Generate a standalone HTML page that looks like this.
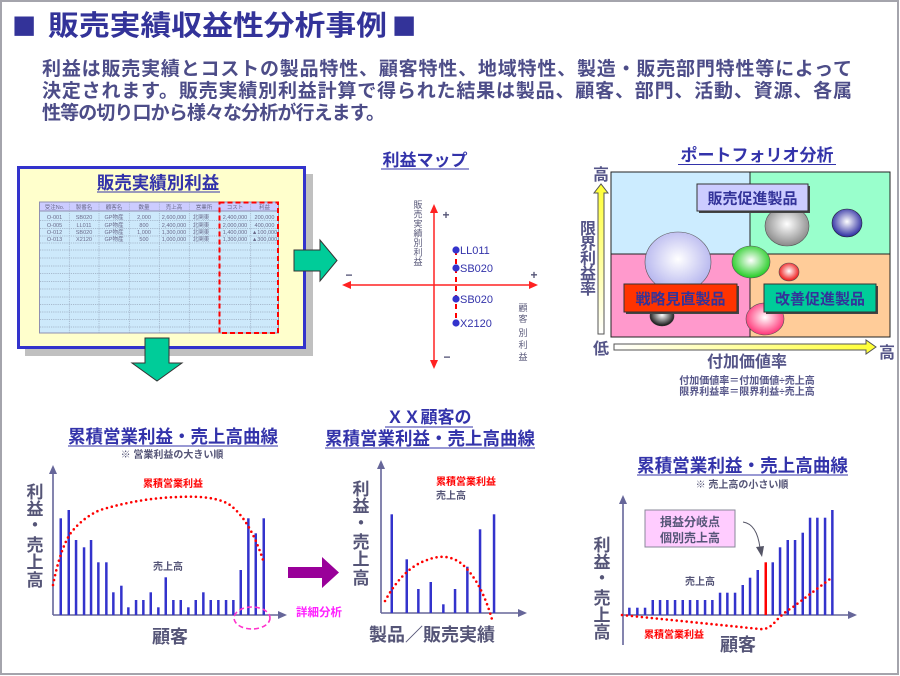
<!DOCTYPE html>
<html><head><meta charset="utf-8">
<style>
html,body{margin:0;padding:0;background:#fff;}
svg{display:block;}
text{font-family:"Liberation Sans","Noto Sans CJK JP",sans-serif;}
.b{font-weight:bold;}
.ttl{fill:#3333aa;font-weight:bold;}
.lab{fill:#555577;font-weight:bold;}
.tbl{font-size:5.5px;fill:#6a6a8a;}
.ser{font-family:"Liberation Serif","Noto Serif CJK SC",serif;}
</style></head>
<body>
<svg width="900" height="676" viewBox="0 0 900 676" xmlns="http://www.w3.org/2000/svg">
<defs>
  <radialGradient id="gGrey" cx="50%" cy="45%" r="55%"><stop offset="0" stop-color="#ffffff"/><stop offset="1" stop-color="#8a8a8a"/></radialGradient>
  <radialGradient id="gBlue" cx="50%" cy="45%" r="55%"><stop offset="0" stop-color="#ffffff"/><stop offset="1" stop-color="#2a2aa0"/></radialGradient>
  <radialGradient id="gLav" cx="50%" cy="45%" r="55%"><stop offset="0" stop-color="#ffffff"/><stop offset="1" stop-color="#b4b4ee"/></radialGradient>
  <radialGradient id="gGreen" cx="50%" cy="45%" r="55%"><stop offset="0" stop-color="#ffffff"/><stop offset="1" stop-color="#22cc22"/></radialGradient>
  <radialGradient id="gRed" cx="50%" cy="45%" r="55%"><stop offset="0" stop-color="#ffffff"/><stop offset="1" stop-color="#ee1111"/></radialGradient>
  <radialGradient id="gBlack" cx="50%" cy="45%" r="55%"><stop offset="0" stop-color="#ffffff"/><stop offset="1" stop-color="#111111"/></radialGradient>
  <radialGradient id="gPink" cx="50%" cy="45%" r="55%"><stop offset="0" stop-color="#ffffff"/><stop offset="1" stop-color="#ff3377"/></radialGradient>
  <linearGradient id="yV" x1="0" y1="1" x2="0" y2="0"><stop offset="0" stop-color="#ffffff"/><stop offset="1" stop-color="#ffff33"/></linearGradient>
  <linearGradient id="yH" x1="0" y1="0" x2="1" y2="0"><stop offset="0" stop-color="#ffffff"/><stop offset="1" stop-color="#ffff33"/></linearGradient>
</defs>

<!-- page border -->
<rect x="1" y="1" width="897" height="673" fill="#ffffff" stroke="#a4a4ac" stroke-width="2"/>

<!-- Title -->
<text x="12" y="38" font-size="40" fill="#333399">■</text>
<text x="48" y="35" font-size="28" fill="#333399" class="b" textLength="339" lengthAdjust="spacingAndGlyphs">販売実績収益性分析事例</text>
<text x="392" y="38" font-size="40" fill="#333399">■</text>

<!-- Paragraph -->
<g font-size="19" fill="#4d4d88" class="b">
<text x="42" y="75" textLength="810" lengthAdjust="spacing">利益は販売実績とコストの製品特性、顧客特性、地域特性、製造・販売部門特性等によって</text>
<text x="42" y="97" textLength="810" lengthAdjust="spacing">決定されます。販売実績別利益計算で得られた結果は製品、顧客、部門、活動、資源、各属</text>
<text x="42" y="119" textLength="343" lengthAdjust="spacing">性等の切り口から様々な分析が行えます。</text>
</g>

<!-- ============ Spreadsheet box ============ -->
<rect x="25" y="174" width="288" height="182" fill="#c0c0c0"/>
<rect x="18.5" y="167.5" width="286" height="180" fill="#ffffcc" stroke="#3333cc" stroke-width="3"/>
<text x="158" y="189" font-size="17.5" text-anchor="middle" class="ttl">販売実績別利益</text>
<line x1="97" y1="192" x2="220" y2="192" stroke="#3333aa" stroke-width="1"/>

<!-- table -->
<rect x="39.5" y="202" width="239" height="131" fill="#cde9fb" stroke="#9090b0" stroke-width="1"/>
<rect x="39.5" y="202" width="239" height="9" fill="#ccccff" stroke="#9090b0" stroke-width="1"/>
<g stroke="#9aaac0" stroke-width="0.7" stroke-dasharray="1.2 1">
  <line x1="69.3" y1="202" x2="69.3" y2="333"/>
  <line x1="99" y1="202" x2="99" y2="333"/>
  <line x1="129.3" y1="202" x2="129.3" y2="333"/>
  <line x1="159.3" y1="202" x2="159.3" y2="333"/>
  <line x1="189.3" y1="202" x2="189.3" y2="333"/>
  <line x1="219.3" y1="202" x2="219.3" y2="333"/>
  <line x1="250.7" y1="202" x2="250.7" y2="333"/>
  <line x1="40" y1="220.5" x2="278" y2="220.5"/>
  <line x1="40" y1="228.5" x2="278" y2="228.5"/>
  <line x1="40" y1="236" x2="278" y2="236"/>
  <line x1="40" y1="243" x2="278" y2="243"/>
  <line x1="40" y1="250" x2="278" y2="250"/>
  <line x1="40" y1="258" x2="278" y2="258"/>
  <line x1="40" y1="266" x2="278" y2="266"/>
  <line x1="40" y1="273.5" x2="278" y2="273.5"/>
  <line x1="40" y1="281.5" x2="278" y2="281.5"/>
  <line x1="40" y1="289" x2="278" y2="289"/>
  <line x1="40" y1="297" x2="278" y2="297"/>
  <line x1="40" y1="304.5" x2="278" y2="304.5"/>
  <line x1="40" y1="312" x2="278" y2="312"/>
  <line x1="40" y1="319.5" x2="278" y2="319.5"/>
  <line x1="40" y1="327" x2="278" y2="327"/>
</g>
<g class="tbl" text-anchor="middle">
  <text x="54.5" y="208.8">受注No.</text>
  <text x="84" y="208.8">製番名</text>
  <text x="114" y="208.8">顧客名</text>
  <text x="144" y="208.8">数量</text>
  <text x="174" y="208.8">売上高</text>
  <text x="204" y="208.8">営業所</text>
  <text x="235" y="208.8">コスト</text>
  <text x="264.5" y="208.8">利益</text>

  <text x="54.5" y="219">O-001</text><text x="84" y="219">SB020</text><text x="114" y="219">GP物産</text><text x="144" y="219">2,000</text><text x="174" y="219">2,600,000</text><text x="201" y="219">北関東</text><text x="235" y="219">2,400,000</text><text x="264.5" y="219">200,000</text>
  <text x="54.5" y="227">O-005</text><text x="84" y="227">LL011</text><text x="114" y="227">GP物産</text><text x="144" y="227">800</text><text x="174" y="227">2,400,000</text><text x="201" y="227">北関東</text><text x="235" y="227">2,000,000</text><text x="264.5" y="227">400,000</text>
  <text x="54.5" y="234">O-012</text><text x="84" y="234">SB020</text><text x="114" y="234">GP物産</text><text x="144" y="234">1,000</text><text x="174" y="234">1,300,000</text><text x="201" y="234">北関東</text><text x="235" y="234">1,400,000</text><text x="264.5" y="234">▲100,000</text>
  <text x="54.5" y="241">O-013</text><text x="84" y="241">X2120</text><text x="114" y="241">GP物産</text><text x="144" y="241">500</text><text x="174" y="241">1,000,000</text><text x="201" y="241">北関東</text><text x="235" y="241">1,300,000</text><text x="264.5" y="241">▲300,000</text>
</g>
<rect x="219.5" y="202.5" width="58.5" height="130.5" fill="none" stroke="#ff0000" stroke-width="2" stroke-dasharray="5 3"/>

<!-- green right arrow -->
<path d="M294,250 L320,250 L320,240 L337,260.5 L320,281 L320,271 L294,271 Z" fill="#00cc99" stroke="#333333" stroke-width="1"/>
<!-- green down arrow -->
<path d="M145,338 L169,338 L169,363 L182,363 L157,381 L132,363 L145,363 Z" fill="#00cc99" stroke="#333333" stroke-width="1"/>

<!-- ============ Profit map ============ -->
<text x="425" y="166" font-size="17" text-anchor="middle" class="ttl">利益マップ</text>
<line x1="381" y1="169" x2="469" y2="169" stroke="#3333aa" stroke-width="1"/>

<g stroke="#ff2222" stroke-width="1.5">
  <line x1="434" y1="210" x2="434" y2="363"/>
  <line x1="348" y1="285" x2="532" y2="285"/>
</g>
<g fill="#ff2222">
  <path d="M434,204 L430,213 L438,213 Z"/>
  <path d="M434,369 L430,360 L438,360 Z"/>
  <path d="M342,285 L351,281 L351,289 Z"/>
  <path d="M538,285 L529,281 L529,289 Z"/>
</g>
<g fill="#555577" font-size="12" class="b" text-anchor="middle">
  <text x="446" y="219">+</text>
  <text x="447" y="361">−</text>
  <text x="349" y="279">−</text>
  <text x="534" y="279">+</text>
</g>
<g fill="#5a5a7a" font-size="9" text-anchor="middle">
  <text x="418" y="208">販</text><text x="418" y="217.5">売</text><text x="418" y="227">実</text><text x="418" y="236.5">績</text><text x="418" y="246">別</text><text x="418" y="255.5">利</text><text x="418" y="265">益</text>
  <text x="523" y="311">顧</text><text x="523" y="322">客</text><text x="523" y="336">別</text><text x="523" y="348">利</text><text x="523" y="360">益</text>
</g>
<line x1="456" y1="250" x2="456" y2="323" stroke="#ff0000" stroke-width="2" stroke-dasharray="5 4"/>
<g fill="#3333cc">
  <circle cx="456" cy="250" r="3.6"/>
  <circle cx="456" cy="268" r="3.6"/>
  <circle cx="456" cy="299" r="3.6"/>
  <circle cx="456" cy="323" r="3.6"/>
</g>
<g fill="#3333aa" font-size="11" class="ser">
  <text x="460" y="254">LL011</text>
  <text x="460" y="272">SB020</text>
  <text x="460" y="303">SB020</text>
  <text x="460" y="327">X2120</text>
</g>

<!-- ============ Portfolio ============ -->
<text x="757" y="161" font-size="17" text-anchor="middle" class="ttl">ポートフォリオ分析</text>
<line x1="678" y1="164.5" x2="836" y2="164.5" stroke="#3333aa" stroke-width="1"/>

<rect x="611" y="172" width="139" height="82" fill="#ccecff"/>
<rect x="750" y="172" width="140" height="82" fill="#99ffcc"/>
<rect x="611" y="254" width="139" height="83" fill="#ff99cc"/>
<rect x="750" y="254" width="140" height="83" fill="#ffcc99"/>
<g stroke="#222" stroke-width="1" fill="none">
  <rect x="611" y="172" width="279" height="165"/>
  <line x1="750" y1="172" x2="750" y2="337"/>
  <line x1="611" y1="254" x2="890" y2="254"/>
</g>

<!-- bubbles -->
<ellipse cx="787" cy="226" rx="22" ry="20" fill="url(#gGrey)" stroke="#555" stroke-width="0.6"/>
<ellipse cx="847" cy="223" rx="15" ry="14" fill="url(#gBlue)" stroke="#223" stroke-width="0.6"/>
<ellipse cx="678" cy="262" rx="33" ry="30" fill="url(#gLav)" stroke="#555" stroke-width="0.6"/>
<ellipse cx="751" cy="262" rx="19" ry="16" fill="url(#gGreen)" stroke="#555" stroke-width="0.6"/>
<ellipse cx="789" cy="272" rx="10" ry="9" fill="url(#gRed)" stroke="#555" stroke-width="0.6"/>
<ellipse cx="662" cy="316" rx="12" ry="10" fill="url(#gBlack)" stroke="#333" stroke-width="0.6"/>
<ellipse cx="765" cy="319" rx="19" ry="16" fill="url(#gPink)" stroke="#555" stroke-width="0.6"/>

<!-- label boxes -->
<rect x="699" y="186" width="111" height="27" fill="#444"/>
<rect x="697" y="184" width="111" height="27" fill="#ccccff" stroke="#333" stroke-width="1"/>
<text x="752.5" y="203.5" font-size="15" text-anchor="middle" fill="#333399" class="b">販売促進製品</text>

<rect x="626" y="286" width="113" height="28" fill="#444"/>
<rect x="624" y="284" width="113" height="28" fill="#ff3300" stroke="#333" stroke-width="1"/>
<text x="680.5" y="304" font-size="15" text-anchor="middle" fill="#333399" class="b">戦略見直製品</text>

<rect x="766" y="286" width="112" height="28" fill="#444"/>
<rect x="764" y="284" width="112" height="28" fill="#00cc99" stroke="#333" stroke-width="1"/>
<text x="820" y="304" font-size="15" text-anchor="middle" fill="#333399" class="b">改善促進製品</text>

<!-- portfolio axes -->
<path d="M598,334 L598,193 L594,193 L601,184 L608,193 L604,193 L604,334 Z" fill="url(#yV)" stroke="#555" stroke-width="1"/>
<path d="M614,344 L866,344 L866,340 L876,347 L866,354 L866,350 L614,350 Z" fill="url(#yH)" stroke="#555" stroke-width="1"/>
<g fill="#555588" class="b" font-size="16" text-anchor="middle">
  <text x="601" y="180">高</text>
  <text x="601" y="354">低</text>
  <text x="887" y="358">高</text>
  <text x="588" y="234">限</text><text x="588" y="249">界</text><text x="588" y="264">利</text><text x="588" y="279">益</text><text x="588" y="294">率</text>
  <text x="747" y="367">付加価値率</text>
</g>
<g fill="#555588" class="b" font-size="10" text-anchor="middle">
  <text x="747" y="384">付加価値率＝付加価値÷売上高</text>
  <text x="747" y="395">限界利益率＝限界利益÷売上高</text>
</g>

<!-- ============ Bottom-left chart ============ -->
<text x="68" y="443" font-size="18" class="ttl" textLength="210" lengthAdjust="spacingAndGlyphs">累積営業利益・売上高曲線</text>
<line x1="68" y1="446" x2="278" y2="446" stroke="#3333aa" stroke-width="1"/>
<text x="172" y="458" font-size="10" text-anchor="middle" class="lab">※ 営業利益の大きい順</text>

<g stroke="#666699" stroke-width="1.6">
  <line x1="53" y1="472" x2="53" y2="615"/>
  <line x1="53" y1="615" x2="280" y2="615"/>
</g>
<g fill="#666699">
  <path d="M53,465 L49,474 L57,474 Z"/>
  <path d="M287,615 L278,611 L278,619 Z"/>
</g>
<g fill="#3333cc">
  <rect x="59.5" y="518.3" width="2.5" height="96.7"/>
  <rect x="67.5" y="510" width="2.5" height="105"/>
  <rect x="74.8" y="540" width="2.5" height="75"/>
  <rect x="82.8" y="547.3" width="2.5" height="67.7"/>
  <rect x="89.8" y="540" width="2.5" height="75"/>
  <rect x="97.1" y="562.3" width="2.5" height="52.7"/>
  <rect x="105.1" y="562.3" width="2.5" height="52.7"/>
  <rect x="112.1" y="592.3" width="2.5" height="22.7"/>
  <rect x="120.1" y="585.7" width="2.5" height="29.3"/>
  <rect x="127.1" y="607.3" width="2.5" height="7.7"/>
  <rect x="134.8" y="600" width="2.5" height="15"/>
  <rect x="142.1" y="600" width="2.5" height="15"/>
  <rect x="149.5" y="592.3" width="2.5" height="22.7"/>
  <rect x="157.1" y="607.3" width="2.5" height="7.7"/>
  <rect x="164.5" y="577.3" width="2.5" height="37.7"/>
  <rect x="172.1" y="600" width="2.5" height="15"/>
  <rect x="179.5" y="600" width="2.5" height="15"/>
  <rect x="187.1" y="607.3" width="2.5" height="7.7"/>
  <rect x="194.5" y="600" width="2.5" height="15"/>
  <rect x="202.1" y="592.3" width="2.5" height="22.7"/>
  <rect x="209.5" y="600" width="2.5" height="15"/>
  <rect x="217.1" y="600" width="2.5" height="15"/>
  <rect x="224.8" y="600" width="2.5" height="15"/>
  <rect x="232.1" y="600" width="2.5" height="15"/>
  <rect x="239.5" y="570" width="2.5" height="45"/>
  <rect x="247.1" y="518.3" width="2.5" height="96.7"/>
  <rect x="254.5" y="533.3" width="2.5" height="81.7"/>
  <rect x="262.5" y="518.3" width="2.5" height="96.7"/>
</g>
<path d="M53,585 Q60,550 70,534 Q82,518 100,510 Q140,498 178,497 Q215,495 230,505 Q250,520 263,560" fill="none" stroke="#ff0000" stroke-width="2.6" stroke-dasharray="0 5" stroke-linecap="round"/>
<text x="173" y="487" font-size="10" text-anchor="middle" fill="#ff0000" class="b">累積営業利益</text>
<text x="168" y="570" font-size="10" text-anchor="middle" class="lab">売上高</text>
<ellipse cx="252" cy="618" rx="18" ry="11" fill="none" stroke="#ff33cc" stroke-width="1.6" stroke-dasharray="5 3"/>
<g font-size="17" class="lab" text-anchor="middle">
  <text x="35" y="498">利</text><text x="35" y="515">益</text><text x="35" y="531">・</text><text x="35" y="551">売</text><text x="35" y="568">上</text><text x="35" y="586">高</text>
</g>
<text x="170" y="643" font-size="18" text-anchor="middle" class="lab">顧客</text>

<!-- purple arrow + 詳細分析 -->
<path d="M288,567 L322,567 L322,557 L339,572.5 L322,588 L322,578 L288,578 Z" fill="#990099"/>
<text x="319" y="616" font-size="11.5" text-anchor="middle" fill="#ff22ff" class="b">詳細分析</text>

<!-- ============ Middle chart ============ -->
<text x="429" y="423" font-size="17" text-anchor="middle" class="ttl">ＸＸ顧客の</text>
<line x1="385" y1="427" x2="473" y2="427" stroke="#3333aa" stroke-width="1"/>
<text x="325" y="445" font-size="18" class="ttl" textLength="210" lengthAdjust="spacingAndGlyphs">累積営業利益・売上高曲線</text>
<line x1="325" y1="448" x2="535" y2="448" stroke="#3333aa" stroke-width="1"/>

<g stroke="#666699" stroke-width="1.6">
  <line x1="381" y1="467" x2="381" y2="613"/>
  <line x1="381" y1="613" x2="520" y2="613"/>
</g>
<g fill="#666699">
  <path d="M381,460 L377,469 L385,469 Z"/>
  <path d="M527,613 L518,609 L518,617 Z"/>
</g>
<g fill="#3333cc">
  <rect x="390.5" y="514.3" width="2.5" height="98.7"/>
  <rect x="405.5" y="559.3" width="2.5" height="53.7"/>
  <rect x="417.1" y="589" width="2.5" height="24"/>
  <rect x="429.5" y="582" width="2.5" height="31"/>
  <rect x="442.1" y="604.3" width="2.5" height="8.7"/>
  <rect x="453.8" y="589" width="2.5" height="24"/>
  <rect x="466.1" y="566.7" width="2.5" height="46.3"/>
  <rect x="478.8" y="529.3" width="2.5" height="83.7"/>
  <rect x="492.8" y="514.3" width="2.5" height="98.7"/>
</g>
<path d="M385,601 Q403,568 427,560 Q447,552 462,564 Q482,582 493,623" fill="none" stroke="#ff0000" stroke-width="2.6" stroke-dasharray="0 5" stroke-linecap="round"/>
<text x="466" y="485" font-size="10" text-anchor="middle" fill="#ff0000" class="b">累積営業利益</text>
<text x="451" y="499" font-size="10" text-anchor="middle" class="lab">売上高</text>
<g font-size="17" class="lab" text-anchor="middle">
  <text x="361" y="495">利</text><text x="361" y="512">益</text><text x="361" y="529">・</text><text x="361" y="548">売</text><text x="361" y="565">上</text><text x="361" y="584">高</text>
</g>
<text x="432" y="641" font-size="18" text-anchor="middle" class="lab">製品／販売実績</text>

<!-- ============ Right chart ============ -->
<text x="637" y="472" font-size="18" class="ttl" textLength="211" lengthAdjust="spacingAndGlyphs">累積営業利益・売上高曲線</text>
<line x1="637" y1="475" x2="848" y2="475" stroke="#3333aa" stroke-width="1"/>
<text x="742" y="488" font-size="10" text-anchor="middle" class="lab">※ 売上高の小さい順</text>

<g stroke="#666699" stroke-width="1.6">
  <line x1="623" y1="502" x2="623" y2="645"/>
  <line x1="623" y1="615" x2="850" y2="615"/>
</g>
<g fill="#666699">
  <path d="M623,495 L619,504 L627,504 Z"/>
  <path d="M857,615 L848,611 L848,619 Z"/>
</g>
<g fill="#3333cc">
  <rect x="628.1" y="607.7" width="2.5" height="7.3"/>
  <rect x="636.1" y="607.7" width="2.5" height="7.3"/>
  <rect x="643.8" y="607.7" width="2.5" height="7.3"/>
  <rect x="651.5" y="600" width="2.5" height="15"/>
  <rect x="658.8" y="600" width="2.5" height="15"/>
  <rect x="666.1" y="600" width="2.5" height="15"/>
  <rect x="673.8" y="600" width="2.5" height="15"/>
  <rect x="681.5" y="600" width="2.5" height="15"/>
  <rect x="688.8" y="600" width="2.5" height="15"/>
  <rect x="696.1" y="600" width="2.5" height="15"/>
  <rect x="703.8" y="600" width="2.5" height="15"/>
  <rect x="711.1" y="600" width="2.5" height="15"/>
  <rect x="718.8" y="592.7" width="2.5" height="22.3"/>
  <rect x="726.1" y="592.7" width="2.5" height="22.3"/>
  <rect x="733.8" y="592.7" width="2.5" height="22.3"/>
  <rect x="741.5" y="585" width="2.5" height="30"/>
  <rect x="748.8" y="577.7" width="2.5" height="37.3"/>
  <rect x="756.5" y="570" width="2.5" height="45"/>
  <rect x="771.5" y="562.3" width="2.5" height="52.7"/>
  <rect x="778.8" y="547.3" width="2.5" height="67.7"/>
  <rect x="786.5" y="540" width="2.5" height="75"/>
  <rect x="793.8" y="540" width="2.5" height="75"/>
  <rect x="801.5" y="532.7" width="2.5" height="82.3"/>
  <rect x="808.8" y="517.7" width="2.5" height="97.3"/>
  <rect x="816.1" y="517.7" width="2.5" height="97.3"/>
  <rect x="823.8" y="517.7" width="2.5" height="97.3"/>
  <rect x="831.1" y="510" width="2.5" height="105"/>
</g>
<rect x="764.5" y="562.3" width="2.5" height="52.7" fill="#ff0000"/>
<path d="M622,615 L760,629 Q768,630 775,622 Q783,613 793,607 L830,579" fill="none" stroke="#ff0000" stroke-width="2.6" stroke-dasharray="0 5" stroke-linecap="round"/>
<text x="674" y="638" font-size="10" text-anchor="middle" fill="#ff0000" class="b">累積営業利益</text>
<text x="700" y="585" font-size="10" text-anchor="middle" class="lab">売上高</text>

<!-- callout -->
<rect x="645" y="510" width="90" height="37" fill="#ffccff" stroke="#888899" stroke-width="1"/>
<text x="690" y="526" font-size="12" text-anchor="middle" class="lab">損益分岐点</text>
<text x="690" y="542" font-size="12" text-anchor="middle" class="lab">個別売上高</text>
<path d="M743,522 Q757,524 760,548" fill="none" stroke="#555566" stroke-width="1"/>
<path d="M762,557 L756,547 L764,546 Z" fill="#555566"/>

<g font-size="17" class="lab" text-anchor="middle">
  <text x="602" y="551">利</text><text x="602" y="568">益</text><text x="602" y="584">・</text><text x="602" y="604">売</text><text x="602" y="621">上</text><text x="602" y="638">高</text>
</g>
<text x="738" y="651" font-size="18" text-anchor="middle" class="lab">顧客</text>
</svg>
</body></html>
